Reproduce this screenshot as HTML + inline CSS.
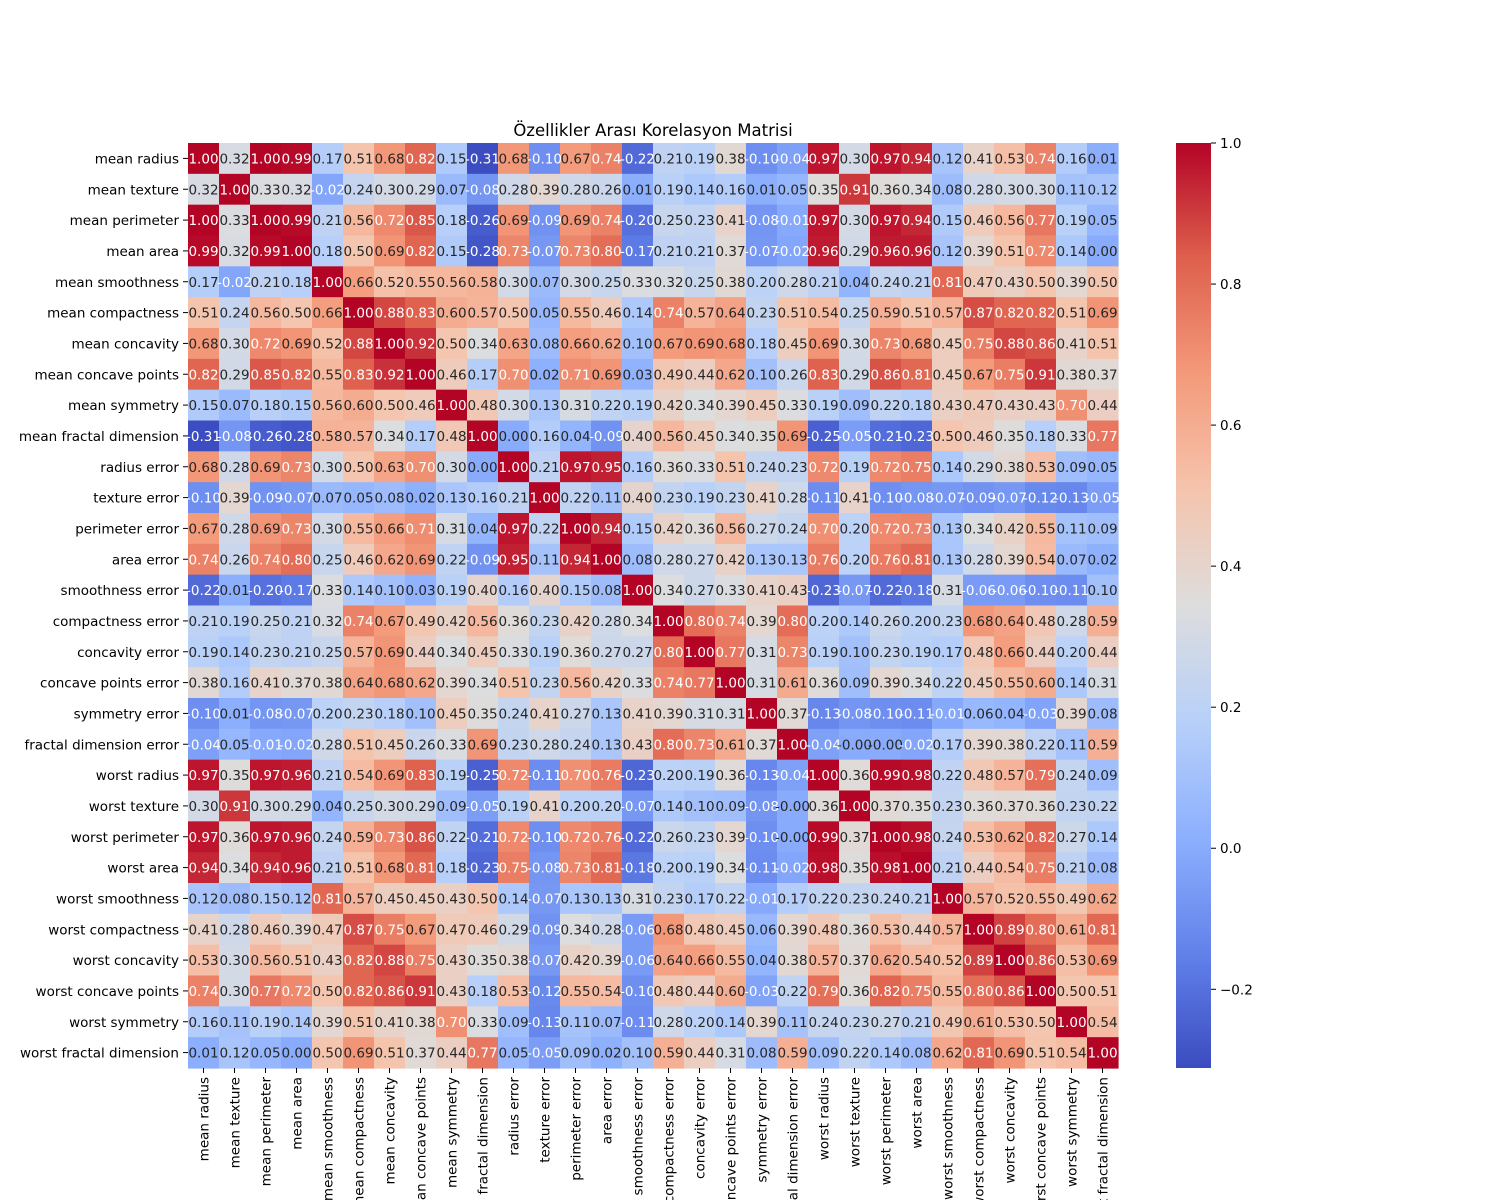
<!DOCTYPE html>
<html><head><meta charset="utf-8">
<style>
html,body{margin:0;padding:0;background:#fff;}
svg{display:block;font-family:"DejaVu Sans","Liberation Sans",sans-serif;}
</style></head>
<body>
<svg id="chart" width="1500" height="1200" viewBox="0 0 1500 1200" xmlns="http://www.w3.org/2000/svg">
<defs><linearGradient id="cbgrad" x1="0" y1="1" x2="0" y2="0"></linearGradient></defs>
<rect width="1500" height="1200" fill="#fff"/>
<text x="653" y="136" text-anchor="middle" font-size="16.5">Özellikler Arası Korelasyon Matrisi</text>
<g id="cells"></g><g id="annots"></g><g id="yticks"></g><g id="xticks"></g><g id="cbar"></g>
</svg>
<script>
const features = ["mean radius","mean texture","mean perimeter","mean area","mean smoothness","mean compactness","mean concavity","mean concave points","mean symmetry","mean fractal dimension","radius error","texture error","perimeter error","area error","smoothness error","compactness error","concavity error","concave points error","symmetry error","fractal dimension error","worst radius","worst texture","worst perimeter","worst area","worst smoothness","worst compactness","worst concavity","worst concave points","worst symmetry","worst fractal dimension"];
const r00=[1.00,0.32,1.00,0.99,0.17,0.51,0.68,0.82,0.15,-0.31,0.68,-0.10,0.67,0.74,-0.22,0.21,0.19,0.38,-0.10,-0.04,0.97,0.30,0.97,0.94,0.12,0.41,0.53,0.74,0.16,0.01];
const r01=[0.32,1.00,0.33,0.32,-0.02,0.24,0.30,0.29,0.07,-0.08,0.28,0.39,0.28,0.26,0.01,0.19,0.14,0.16,0.01,0.05,0.35,0.91,0.36,0.34,0.08,0.28,0.30,0.30,0.11,0.12];
const r02=[1.00,0.33,1.00,0.99,0.21,0.56,0.72,0.85,0.18,-0.26,0.69,-0.09,0.69,0.74,-0.20,0.25,0.23,0.41,-0.08,-0.01,0.97,0.30,0.97,0.94,0.15,0.46,0.56,0.77,0.19,0.05];
const r03=[0.99,0.32,0.99,1.00,0.18,0.50,0.69,0.82,0.15,-0.28,0.73,-0.07,0.73,0.80,-0.17,0.21,0.21,0.37,-0.07,-0.02,0.96,0.29,0.96,0.96,0.12,0.39,0.51,0.72,0.14,0.00];
const r04=[0.17,-0.02,0.21,0.18,1.00,0.66,0.52,0.55,0.56,0.58,0.30,0.07,0.30,0.25,0.33,0.32,0.25,0.38,0.20,0.28,0.21,0.04,0.24,0.21,0.81,0.47,0.43,0.50,0.39,0.50];
const r05=[0.51,0.24,0.56,0.50,0.66,1.00,0.88,0.83,0.60,0.57,0.50,0.05,0.55,0.46,0.14,0.74,0.57,0.64,0.23,0.51,0.54,0.25,0.59,0.51,0.57,0.87,0.82,0.82,0.51,0.69];
const r06=[0.68,0.30,0.72,0.69,0.52,0.88,1.00,0.92,0.50,0.34,0.63,0.08,0.66,0.62,0.10,0.67,0.69,0.68,0.18,0.45,0.69,0.30,0.73,0.68,0.45,0.75,0.88,0.86,0.41,0.51];
const r07=[0.82,0.29,0.85,0.82,0.55,0.83,0.92,1.00,0.46,0.17,0.70,0.02,0.71,0.69,0.03,0.49,0.44,0.62,0.10,0.26,0.83,0.29,0.86,0.81,0.45,0.67,0.75,0.91,0.38,0.37];
const r08=[0.15,0.07,0.18,0.15,0.56,0.60,0.50,0.46,1.00,0.48,0.30,0.13,0.31,0.22,0.19,0.42,0.34,0.39,0.45,0.33,0.19,0.09,0.22,0.18,0.43,0.47,0.43,0.43,0.70,0.44];
const r09=[-0.31,-0.08,-0.26,-0.28,0.58,0.57,0.34,0.17,0.48,1.00,0.00,0.16,0.04,-0.09,0.40,0.56,0.45,0.34,0.35,0.69,-0.25,-0.05,-0.21,-0.23,0.50,0.46,0.35,0.18,0.33,0.77];
const r10=[0.68,0.28,0.69,0.73,0.30,0.50,0.63,0.70,0.30,0.00,1.00,0.21,0.97,0.95,0.16,0.36,0.33,0.51,0.24,0.23,0.72,0.19,0.72,0.75,0.14,0.29,0.38,0.53,0.09,0.05];
const r11=[-0.10,0.39,-0.09,-0.07,0.07,0.05,0.08,0.02,0.13,0.16,0.21,1.00,0.22,0.11,0.40,0.23,0.19,0.23,0.41,0.28,-0.11,0.41,-0.10,-0.08,-0.07,-0.09,-0.07,-0.12,-0.13,-0.05];
const r12=[0.67,0.28,0.69,0.73,0.30,0.55,0.66,0.71,0.31,0.04,0.97,0.22,1.00,0.94,0.15,0.42,0.36,0.56,0.27,0.24,0.70,0.20,0.72,0.73,0.13,0.34,0.42,0.55,0.11,0.09];
const r13=[0.74,0.26,0.74,0.80,0.25,0.46,0.62,0.69,0.22,-0.09,0.95,0.11,0.94,1.00,0.08,0.28,0.27,0.42,0.13,0.13,0.76,0.20,0.76,0.81,0.13,0.28,0.39,0.54,0.07,0.02];
const r14=[-0.22,0.01,-0.20,-0.17,0.33,0.14,0.10,0.03,0.19,0.40,0.16,0.40,0.15,0.08,1.00,0.34,0.27,0.33,0.41,0.43,-0.23,-0.07,-0.22,-0.18,0.31,-0.06,-0.06,-0.10,-0.11,0.10];
const r15=[0.21,0.19,0.25,0.21,0.32,0.74,0.67,0.49,0.42,0.56,0.36,0.23,0.42,0.28,0.34,1.00,0.80,0.74,0.39,0.80,0.20,0.14,0.26,0.20,0.23,0.68,0.64,0.48,0.28,0.59];
const r16=[0.19,0.14,0.23,0.21,0.25,0.57,0.69,0.44,0.34,0.45,0.33,0.19,0.36,0.27,0.27,0.80,1.00,0.77,0.31,0.73,0.19,0.10,0.23,0.19,0.17,0.48,0.66,0.44,0.20,0.44];
const r17=[0.38,0.16,0.41,0.37,0.38,0.64,0.68,0.62,0.39,0.34,0.51,0.23,0.56,0.42,0.33,0.74,0.77,1.00,0.31,0.61,0.36,0.09,0.39,0.34,0.22,0.45,0.55,0.60,0.14,0.31];
const r18=[-0.10,0.01,-0.08,-0.07,0.20,0.23,0.18,0.10,0.45,0.35,0.24,0.41,0.27,0.13,0.41,0.39,0.31,0.31,1.00,0.37,-0.13,-0.08,-0.10,-0.11,-0.01,0.06,0.04,-0.03,0.39,0.08];
const r19=[-0.04,0.05,-0.01,-0.02,0.28,0.51,0.45,0.26,0.33,0.69,0.23,0.28,0.24,0.13,0.43,0.80,0.73,0.61,0.37,1.00,-0.04,-0.00,-0.00,-0.02,0.17,0.39,0.38,0.22,0.11,0.59];
const r20=[0.97,0.35,0.97,0.96,0.21,0.54,0.69,0.83,0.19,-0.25,0.72,-0.11,0.70,0.76,-0.23,0.20,0.19,0.36,-0.13,-0.04,1.00,0.36,0.99,0.98,0.22,0.48,0.57,0.79,0.24,0.09];
const r21=[0.30,0.91,0.30,0.29,0.04,0.25,0.30,0.29,0.09,-0.05,0.19,0.41,0.20,0.20,-0.07,0.14,0.10,0.09,-0.08,-0.00,0.36,1.00,0.37,0.35,0.23,0.36,0.37,0.36,0.23,0.22];
const r22=[0.97,0.36,0.97,0.96,0.24,0.59,0.73,0.86,0.22,-0.21,0.72,-0.10,0.72,0.76,-0.22,0.26,0.23,0.39,-0.10,-0.00,0.99,0.37,1.00,0.98,0.24,0.53,0.62,0.82,0.27,0.14];
const r23=[0.94,0.34,0.94,0.96,0.21,0.51,0.68,0.81,0.18,-0.23,0.75,-0.08,0.73,0.81,-0.18,0.20,0.19,0.34,-0.11,-0.02,0.98,0.35,0.98,1.00,0.21,0.44,0.54,0.75,0.21,0.08];
const r24=[0.12,0.08,0.15,0.12,0.81,0.57,0.45,0.45,0.43,0.50,0.14,-0.07,0.13,0.13,0.31,0.23,0.17,0.22,-0.01,0.17,0.22,0.23,0.24,0.21,1.00,0.57,0.52,0.55,0.49,0.62];
const r25=[0.41,0.28,0.46,0.39,0.47,0.87,0.75,0.67,0.47,0.46,0.29,-0.09,0.34,0.28,-0.06,0.68,0.48,0.45,0.06,0.39,0.48,0.36,0.53,0.44,0.57,1.00,0.89,0.80,0.61,0.81];
const r26=[0.53,0.30,0.56,0.51,0.43,0.82,0.88,0.75,0.43,0.35,0.38,-0.07,0.42,0.39,-0.06,0.64,0.66,0.55,0.04,0.38,0.57,0.37,0.62,0.54,0.52,0.89,1.00,0.86,0.53,0.69];
const r27=[0.74,0.30,0.77,0.72,0.50,0.82,0.86,0.91,0.43,0.18,0.53,-0.12,0.55,0.54,-0.10,0.48,0.44,0.60,-0.03,0.22,0.79,0.36,0.82,0.75,0.55,0.80,0.86,1.00,0.50,0.51];
const r28=[0.16,0.11,0.19,0.14,0.39,0.51,0.41,0.38,0.70,0.33,0.09,-0.13,0.11,0.07,-0.11,0.28,0.20,0.14,0.39,0.11,0.24,0.23,0.27,0.21,0.49,0.61,0.53,0.50,1.00,0.54];
const r29=[0.01,0.12,0.05,0.00,0.50,0.69,0.51,0.37,0.44,0.77,0.05,-0.05,0.09,0.02,0.10,0.59,0.44,0.31,0.08,0.59,0.09,0.22,0.14,0.08,0.62,0.81,0.69,0.51,0.54,1.00];
const matrix=[r00,r01,r02,r03,r04,r05,r06,r07,r08,r09,r10,r11,r12,r13,r14,r15,r16,r17,r18,r19,r20,r21,r22,r23,r24,r25,r26,r27,r28,r29];
const cbTicks=[-0.2,0,0.2,0.4,0.6,0.8,1.0];
const cbLabels=["−0.2","0.0","0.2","0.4","0.6","0.8","1.0"];

const NS="http://www.w3.org/2000/svg";
const X0=188,X1=1118,Y0=143,Y1=1068,n=features.length;
const vmin=-0.3116,vmax=1.0;
const cw=(X1-X0)/n,ch=(Y1-Y0)/n;
const xPos=i=>X0+i*cw, yPos=i=>Y0+i*ch;
const cm=[[59,76,192],[98,130,234],[141,176,254],[184,208,249],[221,221,221],[245,196,173],[244,154,123],[222,96,77],[180,4,38]];
function cmap(v){let t=(v-vmin)/(vmax-vmin);t=Math.max(0,Math.min(1,t));const s=t*8;const k=Math.min(7,Math.floor(s));const f=s-k;
 return cm[k].map((c,j)=>Math.round(c+(cm[k+1][j]-c)*f));}
function lum(c){const l=c.map(x=>{x/=255;return x<=0.03928?x/12.92:Math.pow((x+0.055)/1.055,2.4);});return 0.2126*l[0]+0.7152*l[1]+0.0722*l[2];}
function fmt(v){const s=Math.abs(v).toFixed(2);return (v<0||Object.is(v,-0))?'-'+s:s;}
function mk(tag,attrs,parent){const e=document.createElementNS(NS,tag);for(const k in attrs)e.setAttribute(k,attrs[k]);parent.appendChild(e);return e;}
const gc=document.getElementById('cells'),ga=document.getElementById('annots'),gy=document.getElementById('yticks'),gx=document.getElementById('xticks'),gb=document.getElementById('cbar');
for(let i=0;i<n;i++)for(let j=0;j<n;j++){
 const v=matrix[i][j],c=cmap(v);
 const r=mk('rect',{x:xPos(j),y:yPos(i),width:cw+0.6,height:ch+0.6,fill:`rgb(${c})`},gc);
 
 
 const t=mk('text',{x:xPos(j)+cw/2,y:yPos(i)+ch/2+5,'text-anchor':'middle','font-size':'13.5',fill:lum(c)>0.408?'#262626':'#ffffff'},ga);
 t.textContent=fmt(v);
 
 
}
features.forEach((f,i)=>{
 const y=yPos(i)+ch/2;
 mk('line',{x1:X0-5,x2:X0,y1:y,y2:y,stroke:'#000','stroke-width':1},gy);
 const t=mk('text',{x:X0-9,y:y+5,'text-anchor':'end','font-size':'13.5'},gy);t.textContent=f;
 
 
 const x=xPos(i)+cw/2;
 mk('line',{x1:x,x2:x,y1:Y1,y2:Y1+5,stroke:'#000','stroke-width':1},gx);
 const tx=mk('text',{x:0,y:0,'text-anchor':'end','font-size':'13.5',transform:`translate(${x+5},${Y1+9}) rotate(-90)`},gx);tx.textContent=f;
 
 
});
const grad=document.getElementById('cbgrad');
for(let k=0;k<=40;k++){const v=vmin+(vmax-vmin)*k/40;mk('stop',{offset:(k/40),'stop-color':`rgb(${cmap(v)})`},grad);}
const CB0=1176,CB1=1211;
const cbY=v=>Y1-(v-vmin)/(vmax-vmin)*(Y1-Y0);
const cb=mk('rect',{x:CB0,y:Y0,width:CB1-CB0,height:Y1-Y0,fill:'url(#cbgrad)'},gb);


cbTicks.forEach((v,k)=>{const y=cbY(v);
 mk('line',{x1:CB1,x2:CB1+5,y1:y,y2:y,stroke:'#000','stroke-width':1},gb);
 const t=mk('text',{x:CB1+9,y:y+5,'font-size':'13.5'},gb);t.textContent=cbLabels[k];
 
 
});
</script>
</body></html>
